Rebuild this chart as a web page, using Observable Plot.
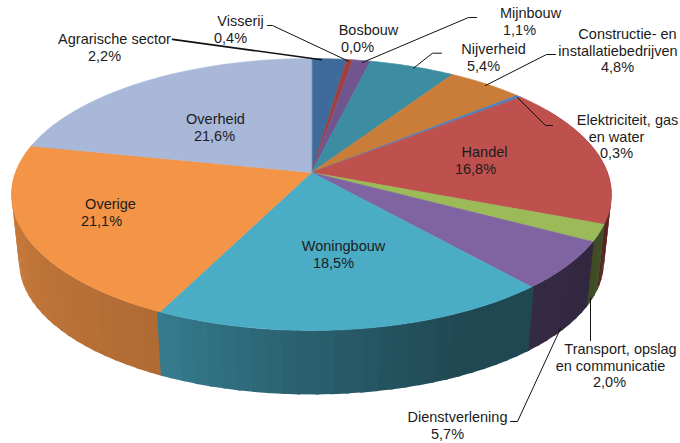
<!DOCTYPE html>
<html><head><meta charset="utf-8">
<script src="https://cdn.jsdelivr.net/npm/d3@7"></script>
<script src="https://cdn.jsdelivr.net/npm/@observablehq/plot@0.6"></script>
<style>html,body{margin:0;padding:0;background:#fff}svg{display:block}</style>
</head><body><div id="chart"></div>
<script>
const categories = ["Agrarische sector","Visserij","Bosbouw","Mijnbouw","Nijverheid","Constructie- en\ninstallatiebedrijven","Elektriciteit, gas\nen water","Handel","Transport, opslag\nen communicatie","Dienstverlening","Woningbouw","Overige","Overheid"];
const shares = [2.2,0.4,0.0,1.1,5.4,4.8,0.3,16.8,2.0,5.7,18.5,21.1,21.6];
const colors = ["#3E6A9C","#9E413E","#8A9A4A","#70558F","#3C8CA2","#C97D38","#4F81BD","#BE504E","#9BBB59","#8064A2","#4BACC6","#F39447","#A9B8D8"];

// Layout, kept apart from the data
const labelXs = [[114,104],[240,230],[368,357],[530,519],[493,483],[627,617.5,617],[627,616,616],[484,475],[620,610,609],[457,447],[343,333],[110,101],[215,214]];
const labelYs = [39,21,30,13,49,34,120,152,349,417,246,204,119];
const leaders = [
  [[172,38.9],[321,59.3]],
  [[267,25],[272,25],[348,60.7]],
  [[476,17],[468,17],[362,62]],
  [[441,52.7],[432,52.7],[413,67.7]],
  [[555,54],[546,54],[485,85]],
  [[552,125],[545,125],[517,97]],
  [[590,340],[590,297]],
  [[510,421],[517,421],[560,328]]
];
const leaderWidths = [1.6,1,1,1,1,1,1,1];
const shadeAngles = [60,100,120,140,155,175,206,265,300];
const shadeFactors = [0.55,0.5,0.39,0.42,0.42,0.52,0.72,0.84,0.86];

const cx = 311, cy = 172, R = 296, S = 132.4, k = 0.1618, wallScale = 0.975, wallDrop = 68;
const project = (deg, bottom = false) => {
  const a = deg * Math.PI / 180, u = Math.sin(a), v = Math.cos(a), den = 1 + k * v;
  const x = R * u / den, y = -S * v / den;
  return bottom ? [cx + x * wallScale, cy + y * wallScale + wallDrop] : [cx + x, cy + y];
};
let acc = 0;
const arcs = shares.map((s, i) => { const a0 = acc * 3.6; acc += s; return {i, a0, a1: acc * 3.6}; });
arcs[arcs.length - 1].a1 = 360;

const shade = d3.scaleLinear(shadeAngles, shadeFactors).clamp(true);
const darken = (c, f) => { const r = d3.rgb(c); return d3.rgb(r.r * f, r.g * f, r.b * f).formatHex(); };

const wallRows = [], faceRows = [];
let pid = 0;
// side wall strips, far ones first, each one lapping over its farther neighbour
const strips = [];
arcs.forEach(({i, a0, a1}) => {
  for (let a = Math.max(a0, 60); a < Math.min(a1, 295); a += 2.5) {
    const b = Math.min(a + 2.5, a1);
    if (b > a) strips.push({a, b, i});
  }
});
strips.sort((p, q) => Math.abs(q.a - 180) - Math.abs(p.a - 180));
for (const {a, b, i} of strips) {
  const c = darken(colors[i], shade((a + b) / 2));
  const a2 = a < 180 ? a - 0.6 : a, b2 = b > 180 ? b + 0.6 : b;
  [project(a2), project(b2), project(b2, true), project(a2, true)].forEach(([x, y]) => wallRows.push({x, y, id: pid, c}));
  pid++;
}
// top face
arcs.forEach(({i, a0, a1}) => {
  if (a1 - a0 <= 0) return;
  const pts = [[cx, cy]];
  const n = Math.max(2, Math.ceil(a1 - a0));
  for (let j = 0; j <= n; j++) pts.push(project(a0 + (a1 - a0) * j / n));
  pts.forEach(([x, y]) => faceRows.push({x, y, id: pid, c: colors[i]}));
  pid++;
});

const textRows = [];
categories.forEach((name, i) => {
  const lines = name.split("\n").concat(shares[i].toFixed(1).replace(".", ",") + "%");
  lines.forEach((t, j) => textRows.push({t, x: labelXs[i][j], y: labelYs[i] + j * 16.5}));
});
const leaderRows = leaders.flatMap((l, id) => l.map(([x, y]) => ({x, y, id, w: leaderWidths[id]})));

const chart = Plot.plot({
  width: 680, height: 443, margin: 0,
  x: {domain: [0, 680], range: [0, 680], axis: null},
  y: {domain: [0, 443], range: [0, 443], axis: null},
  color: {type: "identity"},
  style: {background: "#fff", fontFamily: "'Liberation Sans', Arial, sans-serif"},
  marks: [
    Plot.line(wallRows, {x: "x", y: "y", z: "id", fill: "c", stroke: "none", curve: "linear-closed"}),
    Plot.line(faceRows, {x: "x", y: "y", z: "id", fill: "c", stroke: "c", strokeWidth: 0.6, curve: "linear-closed"}),
    Plot.line(leaderRows.filter(d => d.w === 1), {x: "x", y: "y", z: "id", stroke: "#111", strokeWidth: 1}),
    Plot.line(leaderRows.filter(d => d.w !== 1), {x: "x", y: "y", z: "id", stroke: "#111", strokeWidth: 1.6}),
    Plot.text(textRows, {x: "x", y: "y", text: "t", fontSize: 14.5, fill: "#1c1c1c", textAnchor: "middle", lineAnchor: "middle"})
  ]
});
document.getElementById("chart").appendChild(chart);
</script></body></html>
